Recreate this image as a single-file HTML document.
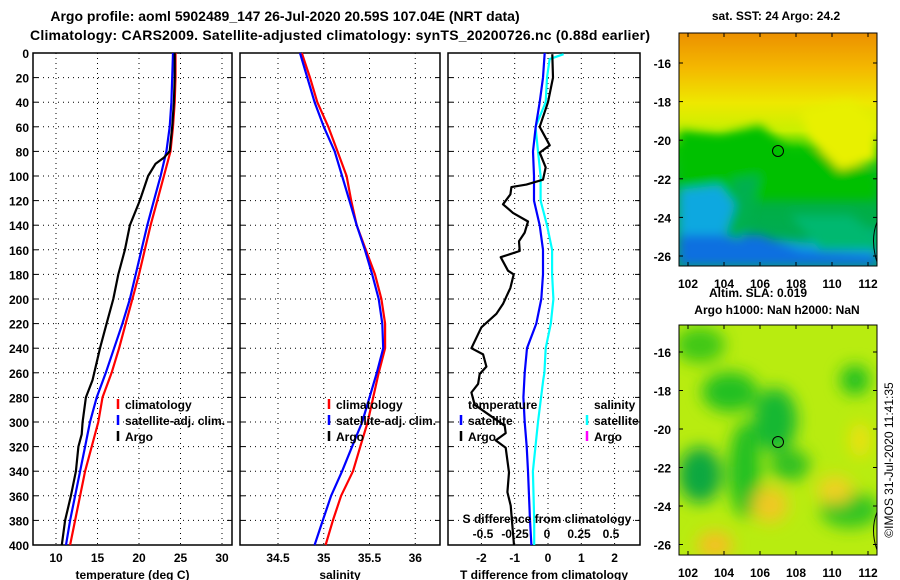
<!DOCTYPE html>
<html><head><meta charset="utf-8"><style>
body{margin:0;background:#fff;}
svg{display:block;font-family:"Liberation Sans",sans-serif;font-weight:bold;}
</style></head><body>
<svg id="chart" width="900" height="580" viewBox="0 0 900 580">
<defs>
<filter id="blur1" x="-20%" y="-20%" width="140%" height="140%"><feGaussianBlur stdDeviation="5"/></filter>
<filter id="blur2" x="-30%" y="-30%" width="160%" height="160%"><feGaussianBlur stdDeviation="8"/></filter>
<clipPath id="cm1"><rect x="679" y="33" width="198" height="233"/></clipPath>
<clipPath id="cm2"><rect x="679" y="325" width="198" height="230"/></clipPath>
<linearGradient id="sstg" x1="0" y1="0" x2="0" y2="1">
<stop offset="0" stop-color="#ec9000"/><stop offset="0.15" stop-color="#f4b800"/><stop offset="0.3" stop-color="#eee800"/><stop offset="0.42" stop-color="#c8f000"/><stop offset="0.5" stop-color="#10c800"/><stop offset="0.7" stop-color="#00b040"/><stop offset="1" stop-color="#00a860"/>
</linearGradient>
</defs>
<g font-size="14" text-anchor="middle">
<text x="285" y="21">Argo profile: aoml 5902489_147 26-Jul-2020 20.59S 107.04E (NRT data)</text>
<text x="340" y="40" textLength="620">Climatology: CARS2009. Satellite-adjusted climatology: synTS_20200726.nc (0.88d earlier)</text>
</g>
<g id="p1"></g>
<g id="p2"></g>
<g id="p3"></g>
<g id="maps">
<g clip-path="url(#cm1)">
<rect x="679" y="33" width="198" height="233" fill="url(#sstg)"/>
<g filter="url(#blur1)">
<path d="M679 130 L720 135 L760 125 L790 150 L830 150 L877 175 L877 200 L679 200 Z" fill="#00c000"/>
<path d="M679 190 L720 185 L740 210 L735 240 L780 240 L830 245 L877 230 L877 266 L679 266 Z" fill="#10a8e0"/>
<path d="M679 235 L760 235 L800 250 L877 255 L877 266 L679 266 Z" fill="#1070e0"/>
<path d="M730 180 L760 175 L750 215 L740 240 L725 235 L735 205 Z" fill="#00b050"/>
<path d="M790 215 L850 215 L877 235 L877 250 L820 250 Z" fill="#00b870"/>
<path d="M800 110 L850 100 L877 120 L877 160 L840 170 L810 140 Z" fill="#e8f000"/>
</g>
<circle cx="778" cy="151" r="5.5" fill="none" stroke="#000" stroke-width="1"/>
<path d="M877 222 Q870 240 877 262" fill="none" stroke="#000" stroke-width="1"/>
</g>
<rect x="679" y="33" width="198" height="233" fill="none" stroke="#000" stroke-width="1"/>
<g clip-path="url(#cm2)">
<rect x="679" y="325" width="198" height="230" fill="#b8ec10"/>
<g filter="url(#blur2)">
<ellipse cx="730" cy="392" rx="28" ry="20" fill="#20c020"/>
<ellipse cx="700" cy="345" rx="25" ry="18" fill="#40c818"/>
<ellipse cx="775" cy="420" rx="22" ry="32" fill="#18b830"/>
<ellipse cx="745" cy="470" rx="16" ry="48" fill="#20c020"/>
<ellipse cx="700" cy="475" rx="22" ry="28" fill="#10a840"/>
<ellipse cx="790" cy="465" rx="20" ry="16" fill="#30c020"/>
<ellipse cx="855" cy="380" rx="15" ry="15" fill="#20c020"/>
<ellipse cx="850" cy="510" rx="30" ry="18" fill="#30c420"/>
<ellipse cx="770" cy="505" rx="18" ry="18" fill="#f0c820"/>
<ellipse cx="715" cy="545" rx="18" ry="14" fill="#f4c020"/>
<ellipse cx="835" cy="490" rx="18" ry="14" fill="#f0d020"/>
<ellipse cx="860" cy="440" rx="10" ry="18" fill="#eee010"/>
</g>
<circle cx="778" cy="442" r="5.5" fill="none" stroke="#000" stroke-width="1"/>
<path d="M877 512 Q870 530 877 550" fill="none" stroke="#000" stroke-width="1"/>
</g>
<rect x="679" y="325" width="198" height="230" fill="none" stroke="#000" stroke-width="1"/>
<text x="776" y="20" font-size="12" text-anchor="middle">sat. SST: 24 Argo: 24.2</text>
<text x="758" y="297" font-size="12" text-anchor="middle">Altim. SLA: 0.019</text>
<text x="777" y="314" font-size="12" text-anchor="middle">Argo h1000: NaN h2000: NaN</text>
<text transform="translate(893,460) rotate(-90)" font-size="12" font-weight="normal" text-anchor="middle">©IMOS 31-Jul-2020 11:41:35</text>
</g>
</svg>
<script>
// ---------- data ----------
const depths = [0,20,40,60,80,100,120,140,160,180,200,220,240,260,280,300,320,340,360,380,400];
const tempClim = [24.4,24.4,24.3,24.1,23.8,23.0,22.2,21.4,20.7,20.0,19.2,18.4,17.6,16.7,15.6,15.1,14.3,13.5,12.9,12.3,11.7];
const tempSat  = [24.1,24.0,23.9,23.7,23.3,22.6,21.8,21.0,20.3,19.6,18.9,18.0,17.0,16.0,14.9,14.1,13.5,12.9,12.3,11.7,11.2];
const argoTDepths = [0,10,20,40,60,80,85,90,100,120,140,160,180,200,220,240,266,280,300,310,320,340,360,380,400];
const argoT = [24.3,24.3,24.3,24.2,24.0,23.7,23.0,22.0,21.1,20.1,18.9,18.3,17.5,16.9,16.1,15.3,14.4,13.6,13.2,13.1,12.7,12.4,11.8,11.1,10.7];
const salClim = [34.76,34.85,34.93,35.05,35.15,35.25,35.30,35.36,35.46,35.56,35.63,35.67,35.67,35.60,35.54,35.48,35.40,35.32,35.19,35.10,35.02];
const salSat  = [34.74,34.82,34.90,35.00,35.12,35.20,35.28,35.36,35.45,35.53,35.60,35.64,35.65,35.58,35.50,35.42,35.31,35.20,35.08,34.99,34.90];
const tDiffDepths = [1,20,40,60,75,81,93,103,107,109,115,123,130,137,146,153,161,166,177,180,191,204,212,223,240,245,255,261,269,276,286,303,309,315,321,341,357,368,400];
const tDiffArgo = [0.13,0.15,0,-0.25,0.05,-0.25,-0.07,-0.15,-0.65,-1.1,-1.13,-1.35,-1.05,-0.6,-0.7,-0.87,-0.85,-1.42,-1.2,-1.03,-1.13,-1.35,-1.55,-2.0,-2.3,-1.95,-1.85,-2.05,-2.1,-2.3,-2.2,-1.3,-1.27,-1.57,-1.27,-1.17,-1.22,-1.12,-1.02];
const tDiffSat = [-0.1,-0.15,-0.25,-0.37,-0.45,-0.42,-0.42,-0.25,-0.15,-0.15,-0.2,-0.35,-0.63,-0.7,-0.74,-0.7,-0.64,-0.6,-0.57,-0.54,-0.5];
const sDiffDepths = [1,5,20,40,60,80,100,120,140,160,180,200,220,240,260,266,300,340,380,400];
const sDiffSat = [0.13,0.02,0,-0.01,-0.09,-0.07,-0.05,-0.05,0,0.04,0.04,0.05,0.03,-0.01,-0.02,-0.03,-0.07,-0.11,-0.1,-0.1];
const depthTicks = [0,20,40,60,80,100,120,140,160,180,200,220,240,260,280,300,320,340,360,380,400];
const tempTicks = [10,15,20,25,30];
const salTicks = [34.5,35,35.5,36];
const tdTicks = [-2,-1,0,1,2];
const sdTicks = [-0.5,-0.25,0,0.25,0.5];
const sdTickLabels = ['-0.5','-0.25','0','0.25','0.5'];
const lonTicks = [102,104,106,108,110,112];
const latTicks1 = [-16,-18,-20,-22,-24,-26];

const NS='http://www.w3.org/2000/svg';
function mk(tag, attrs, parent){const e=document.createElementNS(NS,tag);for(const k in attrs)e.setAttribute(k,attrs[k]);parent.appendChild(e);return e;}
const Y0=53, Y1=545;
const yD = d => Y0 + d/400*(Y1-Y0);

function panel(g, x0, x1, xs, xticks, xlabels, title, showDepth){
  mk('rect',{x:x0,y:Y0,width:x1-x0,height:Y1-Y0,fill:'#fff'},g);
  depthTicks.forEach(d=>{
    const y=yD(d);
    if(d>0&&d<400){const l=mk('line',{x1:x0,x2:x1,y1:y,y2:y,stroke:'#000','stroke-width':1,'stroke-dasharray':'1,4'},g);
      }
    mk('line',{x1:x0,x2:x0+5,y1:y,y2:y,stroke:'#000'},g);
    mk('line',{x1:x1-5,x2:x1,y1:y,y2:y,stroke:'#000'},g);
    if(showDepth){const t=mk('text',{x:29,y:y+5,'font-size':12,'text-anchor':'end'},g);t.textContent=d;
      }
  });
  xticks.forEach((v,i)=>{
    const x=xs(v);
    const l=mk('line',{x1:x,x2:x,y1:Y0,y2:Y1,stroke:'#000','stroke-dasharray':'1,4'},g);
    
    const t=mk('text',{x:x,y:562,'font-size':12,'text-anchor':'middle'},g);t.textContent=xlabels[i];
    
  });
  const r=mk('rect',{x:x0,y:Y0,width:x1-x0,height:Y1-Y0,fill:'none',stroke:'#000','stroke-width':1.5},g);
  
  const tt=mk('text',{x:(x0+x1)/2,y:579,'font-size':12,'text-anchor':'middle'},g);tt.textContent=title;
  
}
function line(g, xs, vals, ds, color, name){
  const pts=vals.map((v,i)=>xs(v).toFixed(1)+','+yD(ds[i]).toFixed(1)).join(' ');
  const p=mk('polyline',{points:pts,fill:'none',stroke:color,'stroke-width':2.2,'stroke-linejoin':'round'},g);
  
  
}
function legend(g, x, y, color, label, name){
  mk('line',{x1:x,x2:x,y1:y-10,y2:y,stroke:color,'stroke-width':2.5},g);
  const t=mk('text',{x:x+7,y:y,'font-size':12},g);t.textContent=label;
  
  
}

// panel 1
const g1=document.getElementById('p1');
const xT = v => 56 + (v-10)*8.3;
panel(g1,33,232,xT,tempTicks,tempTicks.map(String),'temperature (deg C)',true);
line(g1,xT,tempClim,depths,'#ff0000','temp-climatology-line');
line(g1,xT,tempSat,depths,'#0000ff','temp-satellite-line');
line(g1,xT,argoT,argoTDepths,'#000000','temp-argo-line');
legend(g1,118,409,'#ff0000','climatology','legend-climatology');
legend(g1,118,425,'#0000ff','satellite-adj. clim.','legend-satellite');
legend(g1,118,441,'#000000','Argo','legend-argo');

// panel 2
const g2=document.getElementById('p2');
const xS = v => 278 + (v-34.5)*91.5;
panel(g2,240,440,xS,salTicks,salTicks.map(String),'salinity',false);
line(g2,xS,salClim,depths,'#ff0000','sal-climatology-line');
line(g2,xS,salSat,depths,'#0000ff','sal-satellite-line');
legend(g2,329,409,'#ff0000','climatology','legend-climatology');
legend(g2,329,425,'#0000ff','satellite-adj. clim.','legend-satellite');
legend(g2,329,441,'#000000','Argo','legend-argo');

// panel 3
const g3=document.getElementById('p3');
const xTD = v => 548 + v*33.3;
const xSD = v => 547 + v*128;
panel(g3,448,640,xTD,tdTicks,tdTicks.map(String),'T difference from climatology',false);
line(g3,xSD,sDiffSat,sDiffDepths,'#00ffff','sdiff-satellite-line');
line(g3,xTD,tDiffSat,depths,'#0000ff','tdiff-satellite-line');
line(g3,xTD,tDiffArgo,tDiffDepths,'#000000','tdiff-argo-line');
sdTicks.forEach((v,i)=>{const t=mk('text',{x:xSD(v),y:538,'font-size':12,'text-anchor':'middle'},g3);t.textContent=sdTickLabels[i];
  });
{const t=mk('text',{x:547,y:523,'font-size':12,'text-anchor':'middle'},g3);t.textContent='S difference from climatology';
 }
{const t=mk('text',{x:468,y:409,'font-size':12},g3);t.textContent='temperature';
 }
{const t=mk('text',{x:594,y:409,'font-size':12},g3);t.textContent='salinity';
 }
legend(g3,461,425,'#0000ff','satellite','legend-t-satellite');
legend(g3,461,441,'#000000','Argo','legend-t-argo');
legend(g3,587,425,'#00ffff','satellite','legend-s-satellite');
legend(g3,587,441,'#ff00ff','Argo','legend-s-argo');

// map axes
const gm=document.getElementById('maps');
const xLon = v => 688 + (v-102)*18;
function mapAxes(top, bottom, latY, lats, name){
  lonTicks.forEach(v=>{const x=xLon(v);
    mk('line',{x1:x,x2:x,y1:top,y2:top+4,stroke:'#000'},gm);mk('line',{x1:x,x2:x,y1:bottom-4,y2:bottom,stroke:'#000'},gm);
    const t=mk('text',{x:x,y:bottom+22,'font-size':12,'text-anchor':'middle'},gm);t.textContent=v;
    });
  lats.forEach(v=>{const y=latY(v);
    mk('line',{x1:679,x2:683,y1:y,y2:y,stroke:'#000'},gm);mk('line',{x1:873,x2:877,y1:y,y2:y,stroke:'#000'},gm);
    const t=mk('text',{x:671,y:y+5,'font-size':12,'text-anchor':'end'},gm);t.textContent=v;
    });
}
mapAxes(33,266,v=>63+(-16-v)*19.3,latTicks1,'sst-map');
mapAxes(325,555,v=>352+(-16-v)*19.25,latTicks1,'sla-map');
</script>
</body></html>
